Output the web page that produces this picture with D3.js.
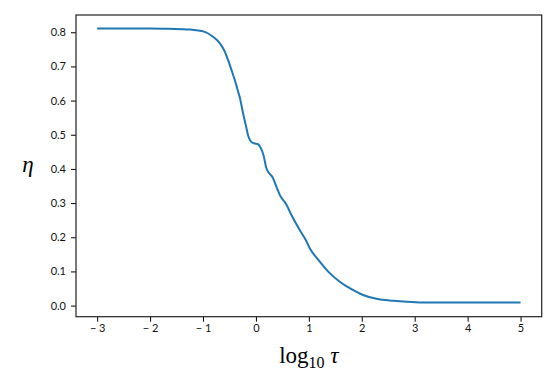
<!DOCTYPE html>
<html><head><meta charset="utf-8">
<script src="https://cdn.jsdelivr.net/npm/d3@7"></script>
<style>body{margin:0;background:#fff}svg{display:block}</style>
</head><body>
<svg id="c" width="553" height="378"></svg>
<script>
const logTau = [-3, -2.5, -2, -1.63, -1.25, -0.968, -0.811, -0.684, -0.590, -0.527, -0.463, -0.401, -0.338, -0.301, -0.250, -0.193, -0.142, -0.093, -0.036, 0.034, 0.096, 0.142, 0.198, 0.323, 0.374, 0.450, 0.577, 0.671, 0.828, 0.941, 1.017, 1.206, 1.395, 1.584, 1.773, 2.025, 2.278, 2.592, 3.1, 3.6, 4.0, 4.5, 5.0];
const eta = [0.811, 0.811, 0.811, 0.810, 0.808, 0.801, 0.787, 0.768, 0.744, 0.719, 0.690, 0.661, 0.627, 0.607, 0.568, 0.529, 0.495, 0.480, 0.475, 0.473, 0.460, 0.441, 0.402, 0.373, 0.353, 0.324, 0.295, 0.265, 0.221, 0.192, 0.168, 0.129, 0.095, 0.070, 0.051, 0.031, 0.020, 0.014, 0.0094, 0.0089, 0.0088, 0.0088, 0.0088];
const xTicks = [-3, -2, -1, 0, 1, 2, 3, 4, 5];
const yTicks = [0.0, 0.1, 0.2, 0.3, 0.4, 0.5, 0.6, 0.7, 0.8];

const svg = d3.select("#c");
const L = 76, R = 541.7, T = 15, B = 316.7;
const x = d3.scaleLinear().domain([-3.4, 5.4]).range([L, R]);
const y = d3.scaleLinear().domain([-0.0325, 0.8505]).range([B, T]);
const tickFont = "Lato, 'Open Sans', sans-serif";

const fmtX = d => d < 0 ? "\u2212 " + Math.abs(d) : String(d);
const xAxis = svg.append("g").attr("transform", `translate(0,${B})`)
  .call(d3.axisBottom(x).tickValues(xTicks).tickFormat(fmtX).tickSize(5).tickPadding(3));
const yAxis = svg.append("g").attr("transform", `translate(${L},0)`)
  .call(d3.axisLeft(y).tickValues(yTicks).tickFormat(d3.format(".1f")).tickSize(5).tickPadding(5));
[xAxis, yAxis].forEach(g => {
  g.select(".domain").remove();
  g.selectAll("line").attr("stroke", "#000").attr("stroke-width", 1);
  g.selectAll("text").attr("font-family", tickFont).attr("font-size", 11).attr("fill", "#111");
});

svg.append("path")
  .datum(logTau.map((d, i) => [d, eta[i]]))
  .attr("fill", "none").attr("stroke", "#1f77b4").attr("stroke-width", 2)
  .attr("stroke-linejoin", "round")
  .attr("d", d3.line().x(d => x(d[0])).y(d => y(d[1])).curve(d3.curveMonotoneX));

svg.append("rect").attr("x", L).attr("y", T).attr("width", R - L).attr("height", B - T)
  .attr("fill", "none").attr("stroke", "#222").attr("stroke-width", 1.2);

svg.append("text").attr("x", 28).attr("y", 172).attr("text-anchor", "middle")
  .attr("font-family", "'Liberation Serif', 'DejaVu Serif', serif").attr("font-style", "italic")
  .attr("font-size", 23).text("η");

const xl = svg.append("text").attr("x", (L + R) / 2).attr("y", 363).attr("text-anchor", "middle")
  .attr("font-family", "'Liberation Serif', 'DejaVu Serif', serif").attr("font-size", 23);
xl.append("tspan").text("log");
xl.append("tspan").attr("font-size", 16).attr("dy", 5).text("10");
xl.append("tspan").attr("dy", -5).attr("font-style", "italic").text(" τ");
</script>
</body></html>
